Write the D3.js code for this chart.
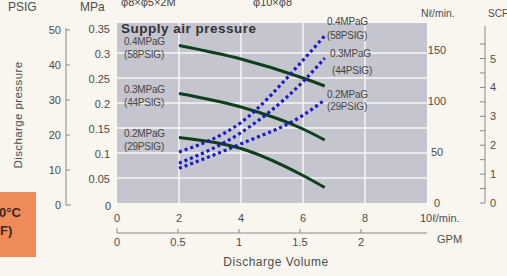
<!DOCTYPE html>
<html>
<head>
<meta charset="utf-8">
<script src="https://cdn.jsdelivr.net/npm/d3@7"></script>
<style>
  html, body { margin: 0; padding: 0; background: #f8f6ee; overflow: hidden; }
  svg { display: block; font-family: "Liberation Sans", Arial, sans-serif; }
</style>
</head>
<body>
<svg id="chart" width="507" height="276"></svg>
<script>
// discharge flow (L/min) where the curves were read
const flow = [2, 4, 6, 6.7];

// discharge pressure (MPa) per supply pressure
const press04 = [0.315, 0.288, 0.25, 0.234];
const press03 = [0.219, 0.192, 0.148, 0.126];
const press02 = [0.131, 0.109, 0.055, 0.031];

// air consumption (Nl/min) per supply pressure
const air04 = [50, 79, 140, 164];
const air03 = [39, 69, 119, 142];
const air02 = [34, 58, 86, 101];

const supplyLabels = [["0.4MPaG", "(58PSIG)"], ["0.3MPaG", "(44PSIG)"], ["0.2MPaG", "(29PSIG)"]];

const mpaTicks = [0, 0.05, 0.1, 0.15, 0.2, 0.25, 0.3, 0.35];
const psigTicks = [0, 10, 20, 30, 40, 50];
const nlTicks = [0, 50, 100, 150];
const scfTicks = [0, 1, 2, 3, 4, 5];
const lpmTicks = [0, 2, 4, 6, 8];
const gpmTicks = [0, 0.5, 1, 1.5, 2];

const svg = d3.select("#chart");

const x = d3.scaleLinear().domain([0, 10]).range([117, 427]);
const yMpa = d3.scaleLinear().domain([0, 0.35]).range([203, 28]);
const yPsig = d3.scaleLinear().domain([0, 50]).range([205, 30]);
const yNl = d3.scaleLinear().domain([0, 150]).range([203, 50]);
const yScf = d3.scaleLinear().domain([0, 6]).range([203, 29.6]);
const gpm = d3.scaleLinear().domain([0, 2]).range([117, 361]);

const txt = "#4d4d4d";
const fs = 11;

// plot background
svg.append("rect")
  .attr("x", x(0)).attr("y", 23)
  .attr("width", x(10) - x(0)).attr("height", yMpa(0) - 23)
  .attr("fill", "#c5c5d0");

// grid
svg.append("g").selectAll("line")
  .data(mpaTicks.slice(1, -1))
  .join("line")
  .attr("x1", x(0)).attr("x2", x(10))
  .attr("y1", (d) => yMpa(d)).attr("y2", (d) => yMpa(d))
  .attr("stroke", "#f4f4f8").attr("stroke-width", 1.5);
svg.append("g").selectAll("line")
  .data(lpmTicks.slice(1))
  .join("line")
  .attr("x1", (d) => x(d)).attr("x2", (d) => x(d))
  .attr("y1", 23).attr("y2", yMpa(0))
  .attr("stroke", "#f4f4f8").attr("stroke-width", 1.5);

// top (cut off) headings
svg.append("text").attr("x", 121).attr("y", 6).attr("font-size", 11).attr("fill", "#444").text("φ8×φ5×2M");
svg.append("text").attr("x", 253).attr("y", 6).attr("font-size", 11).attr("fill", "#444").text("φ10×φ8");

svg.append("text").attr("x", 121).attr("y", 33)
  .attr("font-size", 13.5).attr("font-weight", "bold").attr("letter-spacing", 0.5).attr("fill", "#333")
  .text("Supply air pressure");

// PSIG axis
svg.append("text").attr("x", 8).attr("y", 11).attr("font-size", 12).attr("fill", txt).text("PSIG");
svg.append("path")
  .attr("d", `M66,${yPsig(50) - 2}V${yPsig(0)}H71`)
  .attr("fill", "none").attr("stroke", "#888").attr("stroke-width", 1);
svg.append("g").selectAll("line")
  .data(psigTicks.slice(1))
  .join("line")
  .attr("x1", 66).attr("x2", 70)
  .attr("y1", (d) => yPsig(d)).attr("y2", (d) => yPsig(d))
  .attr("stroke", "#888");
svg.append("g").selectAll("text")
  .data(psigTicks)
  .join("text")
  .attr("x", 61).attr("y", (d) => yPsig(d) + 4)
  .attr("text-anchor", "end").attr("font-size", fs).attr("fill", txt)
  .text((d) => d);

// MPa labels
svg.append("text").attr("x", 80).attr("y", 11).attr("font-size", 12).attr("fill", txt).text("MPa");
svg.append("g").selectAll("text")
  .data(mpaTicks)
  .join("text")
  .attr("x", (d) => (d === 0 ? 111 : 110))
  .attr("y", (d) => yMpa(d) + (d === 0 ? 7 : 5))
  .attr("text-anchor", "end").attr("font-size", fs).attr("fill", txt)
  .text((d) => d);

svg.append("text")
  .attr("transform", "translate(22,115) rotate(-90)")
  .attr("text-anchor", "middle").attr("font-size", 11.5).attr("letter-spacing", 0.4).attr("fill", txt)
  .text("Discharge pressure");

// Nl/min labels
svg.append("text").attr("x", 421).attr("y", 17).attr("font-size", 10.5).attr("fill", txt).text("Nℓ/min.");
svg.append("g").selectAll("text")
  .data(nlTicks)
  .join("text")
  .attr("x", 437).attr("y", (d) => yNl(d) + 4)
  .attr("text-anchor", "middle").attr("font-size", fs).attr("fill", txt)
  .text((d) => d);

// SCF axis
svg.append("text").attr("x", 488).attr("y", 17).attr("font-size", 10).attr("fill", txt).text("SCF");
svg.append("line")
  .attr("x1", 485).attr("x2", 485).attr("y1", 26).attr("y2", yScf(0))
  .attr("stroke", "#888");
svg.append("g").selectAll("line")
  .data(d3.range(0, 12).map((i) => i / 2))
  .join("line")
  .attr("x1", 480).attr("x2", 485)
  .attr("y1", (d) => yScf(d)).attr("y2", (d) => yScf(d))
  .attr("stroke", "#888");
svg.append("g").selectAll("text")
  .data(scfTicks)
  .join("text")
  .attr("x", 490).attr("y", (d) => yScf(d) + 4)
  .attr("font-size", fs).attr("fill", txt)
  .text((d) => d);

// L/min labels
svg.append("g").selectAll("text")
  .data(lpmTicks)
  .join("text")
  .attr("x", (d) => x(d)).attr("y", 222)
  .attr("text-anchor", "middle").attr("font-size", fs).attr("fill", txt)
  .text((d) => d);
svg.append("text").attr("x", 420).attr("y", 222).attr("font-size", fs).attr("fill", txt).text("10ℓ/min.");

// GPM axis
svg.append("path")
  .attr("d", `M${gpm(0)},228V233H${x(10)}`)
  .attr("fill", "none").attr("stroke", "#888");
svg.append("g").selectAll("line")
  .data(gpmTicks.slice(1))
  .join("line")
  .attr("x1", (d) => gpm(d)).attr("x2", (d) => gpm(d))
  .attr("y1", 229).attr("y2", 233)
  .attr("stroke", "#888");
svg.append("g").selectAll("text")
  .data(gpmTicks)
  .join("text")
  .attr("x", (d) => gpm(d)).attr("y", 246)
  .attr("text-anchor", "middle").attr("font-size", fs).attr("fill", txt)
  .text((d) => d);
svg.append("text").attr("x", 437).attr("y", 243).attr("font-size", fs).attr("fill", txt).text("GPM");
svg.append("text").attr("x", 276).attr("y", 266)
  .attr("text-anchor", "middle").attr("font-size", 12).attr("letter-spacing", 0.5).attr("fill", txt)
  .text("Discharge Volume");

// orange temperature tag (cut off)
svg.append("rect").attr("x", 0).attr("y", 192).attr("width", 36).attr("height", 65).attr("fill", "#ee8b58");
svg.append("text").attr("x", -1).attr("y", 217).attr("font-size", 13).attr("font-weight", "bold").attr("fill", "#3a2a20").text("0°C");
svg.append("text").attr("x", 0).attr("y", 235).attr("font-size", 13).attr("font-weight", "bold").attr("fill", "#3a2a20").text("F)");

// curves
const pressLine = d3.line()
  .x((d, i) => x(flow[i]))
  .y((d) => yMpa(d))
  .curve(d3.curveMonotoneX);
const airLine = d3.line()
  .x((d, i) => x(flow[i]))
  .y((d) => yNl(d))
  .curve(d3.curveMonotoneX);

[press04, press03, press02].forEach((s) => {
  svg.append("path").attr("d", pressLine(s))
    .attr("fill", "none").attr("stroke", "#0d3f18").attr("stroke-width", 3);
});
[air04, air03, air02].forEach((s) => {
  svg.append("path").attr("d", airLine(s))
    .attr("fill", "none").attr("stroke", "#1a1acc")
    .attr("stroke-width", 3.2).attr("stroke-dasharray", "3,3");
});

// curve labels
const lab = (xx, yy, t) =>
  svg.append("text").attr("x", xx).attr("y", yy)
    .attr("font-size", 10).attr("letter-spacing", -0.2).attr("fill", "#444").text(t);

[press04, press03, press02].forEach((s, i) => {
  const y0 = yMpa(s[0]);
  lab(124, y0 - 1, supplyLabels[i][0]);
  lab(124, y0 + 12, supplyLabels[i][1]);
});
const rightDy = [[-11, 3], [-1, 16], [-2, 10]];
[air04, air03, air02].forEach((s, i) => {
  const y1 = yNl(s[s.length - 1]);
  lab(327 + (i === 1 ? 3 : 0), y1 + rightDy[i][0], supplyLabels[i][0]);
  lab(327 + (i === 1 ? 5 : 0), y1 + rightDy[i][1], supplyLabels[i][1]);
});
</script>
</body>
</html>
